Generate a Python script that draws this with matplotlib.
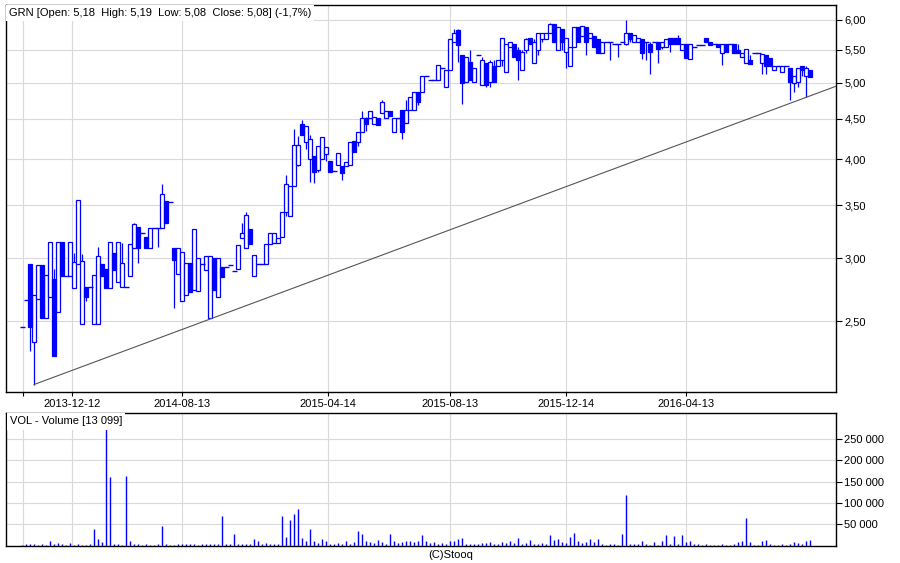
import numpy as np
import matplotlib
matplotlib.use("Agg")
import matplotlib.pyplot as plt
from matplotlib.ticker import FixedLocator, FuncFormatter, NullLocator

plt.rcParams['font.family'] = ['Liberation Sans', 'DejaVu Sans']

# ---------------- data (session order, left to right) ----------------
opens = [
    2.46, 2.66, 2.95, 2.35, 2.67, 2.94, 2.52, 2.68, 2.83, 2.57,
    3.15, 2.85, 2.85, 2.75, 2.95, 2.48, 2.76, 2.76, 2.48, 2.48,
    2.95, 2.91, 2.75, 3.05, 2.80, 2.76, 2.76, 2.85, 3.09, 3.29,
    3.23, 3.19, 3.09, 3.28, 3.28, 3.28, 3.54, 3.53, 3.09, 2.87,
    2.65, 2.70, 2.96, 2.74, 2.73, 2.95, 2.90, 2.52, 3.00, 2.68,
    2.93, 2.93, 2.94, 2.89, 2.91, 3.18, 3.09, 3.27, 2.85, 2.95,
    2.95, 2.95, 3.13, 3.14, 3.14, 3.19, 3.43, 3.39, 3.70, 3.94,
    4.43, 4.21, 4.00, 4.04, 3.88, 4.00, 4.06, 3.98, 3.87, 3.93,
    3.92, 3.92, 3.94, 4.22, 4.21, 4.33, 4.51, 4.51, 4.43, 4.51,
    4.58, 4.51, 4.60, 4.33, 4.51, 4.62, 4.45, 4.62, 4.62, 4.87,
    4.87, 5.09, 5.04, 5.04, 5.04, 5.22, 4.94, 5.19, 5.62, 5.83,
    5.42, 5.01, 5.31, 5.01, 5.42, 4.96, 5.30, 5.01, 5.24, 5.24,
    5.34, 5.16, 5.55, 5.59, 5.50, 5.19, 5.50, 5.69, 5.30, 5.50,
    5.67, 5.67, 5.78, 5.92, 5.50, 5.85, 5.47, 5.24, 5.54, 5.87,
    5.72, 5.87, 5.69, 5.72, 5.67, 5.45, 5.62, 5.62, 5.60, 5.60,
    5.62, 5.60, 5.78, 5.62, 5.62, 5.67, 5.62, 5.59, 5.62, 5.62,
    5.54, 5.54, 5.69, 5.69, 5.69, 5.50, 5.59, 5.36, 5.55, 5.57,
    5.57, 5.69, 5.62, 5.59, 5.59, 5.45, 5.59, 5.60, 5.59, 5.50,
    5.39, 5.30, 5.34, 5.45, 5.45, 5.30, 5.42, 5.37, 5.18, 5.24,
    5.16, 5.24, 5.22, 5.00, 5.01, 5.24, 5.09, 5.18,
]
highs = [
    2.46, 2.66, 2.95, 2.70, 2.94, 2.94, 2.86, 3.15, 2.91, 3.15,
    3.15, 2.85, 3.15, 3.05, 3.55, 3.04, 2.76, 2.76, 2.86, 3.10,
    2.95, 2.91, 3.15, 3.05, 3.15, 3.14, 2.76, 3.13, 3.33, 3.29,
    3.23, 3.19, 3.28, 3.28, 3.28, 3.72, 3.54, 3.53, 3.09, 3.09,
    3.06, 2.96, 2.96, 3.27, 3.00, 2.95, 3.02, 3.02, 3.00, 3.00,
    2.93, 2.93, 2.94, 2.89, 3.12, 3.33, 3.43, 3.27, 3.03, 2.95,
    2.95, 3.13, 3.23, 3.23, 3.18, 3.43, 3.82, 3.70, 4.37, 4.28,
    4.49, 4.41, 4.30, 4.04, 4.16, 4.27, 4.15, 3.98, 3.87, 4.08,
    3.92, 3.97, 4.21, 4.22, 4.33, 4.60, 4.53, 4.60, 4.53, 4.51,
    4.76, 4.60, 4.60, 4.51, 4.51, 4.62, 4.76, 4.79, 4.87, 4.87,
    5.09, 5.09, 5.04, 5.04, 5.27, 5.22, 5.19, 5.67, 5.85, 5.85,
    5.42, 5.39, 5.49, 5.22, 5.42, 5.39, 5.30, 5.34, 5.34, 5.34,
    5.70, 5.59, 5.62, 5.59, 5.54, 5.50, 5.69, 5.69, 5.67, 5.78,
    5.78, 5.78, 5.95, 5.92, 5.87, 5.85, 5.70, 5.54, 5.87, 5.87,
    5.90, 5.87, 5.78, 5.72, 5.67, 5.63, 5.62, 5.62, 5.60, 5.60,
    5.62, 6.00, 5.78, 5.75, 5.70, 5.67, 5.62, 5.62, 5.62, 5.62,
    5.62, 5.67, 5.69, 5.69, 5.75, 5.60, 5.59, 5.60, 5.55, 5.57,
    5.57, 5.69, 5.62, 5.59, 5.59, 5.59, 5.59, 5.60, 5.60, 5.60,
    5.45, 5.52, 5.42, 5.45, 5.45, 5.44, 5.42, 5.37, 5.24, 5.24,
    5.24, 5.24, 5.22, 5.09, 5.22, 5.24, 5.24, 5.19,
]
lows = [
    2.46, 2.66, 2.29, 2.08, 2.67, 2.52, 2.52, 2.68, 2.26, 2.57,
    2.85, 2.85, 2.85, 2.75, 2.95, 2.48, 2.65, 2.76, 2.48, 2.48,
    2.85, 2.75, 2.75, 2.90, 2.80, 2.76, 2.76, 2.85, 3.09, 2.96,
    3.23, 3.09, 3.09, 3.28, 3.10, 3.28, 3.33, 3.53, 2.60, 2.87,
    2.65, 2.70, 2.72, 2.74, 2.73, 2.95, 2.90, 2.52, 2.74, 2.68,
    2.84, 2.93, 2.94, 2.89, 2.91, 3.18, 3.09, 3.13, 2.85, 2.95,
    2.95, 2.95, 3.13, 3.14, 3.14, 3.19, 3.39, 3.39, 3.70, 3.92,
    4.30, 4.12, 3.75, 3.74, 3.86, 4.00, 3.98, 3.86, 3.87, 3.93,
    3.77, 3.92, 3.94, 4.09, 4.16, 4.33, 4.34, 4.51, 4.43, 4.42,
    4.58, 4.51, 4.54, 4.33, 4.51, 4.24, 4.45, 4.62, 4.62, 4.69,
    4.87, 5.09, 5.04, 5.04, 5.04, 5.22, 4.94, 5.19, 5.62, 5.31,
    4.70, 5.01, 5.04, 5.01, 5.42, 4.96, 4.94, 4.94, 5.01, 5.24,
    5.24, 5.16, 5.55, 5.39, 5.04, 5.19, 5.45, 5.59, 5.30, 5.42,
    5.63, 5.67, 5.78, 5.63, 5.50, 5.50, 5.22, 5.24, 5.54, 5.62,
    5.72, 5.42, 5.69, 5.54, 5.45, 5.45, 5.62, 5.34, 5.60, 5.39,
    5.62, 5.57, 5.62, 5.62, 5.62, 5.36, 5.34, 5.12, 5.62, 5.30,
    5.52, 5.54, 5.47, 5.60, 5.59, 5.49, 5.37, 5.36, 5.55, 5.57,
    5.57, 5.62, 5.57, 5.59, 5.54, 5.27, 5.47, 5.60, 5.45, 5.45,
    5.39, 5.30, 5.28, 5.45, 5.45, 5.12, 5.12, 5.24, 5.18, 5.24,
    5.16, 5.24, 4.76, 4.86, 4.93, 5.09, 4.79, 5.08,
]
closes = [
    2.46, 2.66, 2.46, 2.70, 2.94, 2.52, 2.86, 3.15, 2.26, 3.15,
    2.85, 2.85, 3.15, 2.97, 3.55, 2.98, 2.68, 2.76, 2.86, 3.02,
    2.85, 2.75, 3.15, 2.90, 3.15, 2.96, 2.76, 3.13, 3.32, 3.09,
    3.23, 3.09, 3.28, 3.28, 3.28, 3.62, 3.33, 3.53, 2.99, 3.09,
    3.06, 2.96, 2.72, 3.27, 3.00, 2.95, 3.02, 3.02, 2.74, 3.00,
    2.84, 2.93, 2.94, 2.89, 3.12, 3.23, 3.40, 3.13, 3.03, 2.95,
    2.95, 3.13, 3.23, 3.23, 3.18, 3.43, 3.72, 3.70, 4.17, 4.17,
    4.30, 4.41, 4.24, 3.86, 4.16, 4.27, 4.15, 3.86, 3.87, 4.08,
    3.85, 3.97, 4.21, 4.09, 4.33, 4.51, 4.43, 4.60, 4.53, 4.42,
    4.72, 4.60, 4.54, 4.51, 4.51, 4.33, 4.62, 4.79, 4.87, 4.73,
    5.09, 5.09, 5.04, 5.04, 5.27, 5.22, 5.19, 5.67, 5.78, 5.57,
    5.00, 5.39, 5.04, 5.22, 5.42, 5.34, 4.97, 5.31, 5.01, 5.34,
    5.70, 5.59, 5.62, 5.39, 5.34, 5.47, 5.67, 5.59, 5.63, 5.78,
    5.78, 5.78, 5.92, 5.63, 5.87, 5.62, 5.70, 5.54, 5.87, 5.62,
    5.90, 5.62, 5.78, 5.54, 5.45, 5.62, 5.62, 5.62, 5.60, 5.60,
    5.62, 5.78, 5.67, 5.75, 5.70, 5.45, 5.62, 5.47, 5.62, 5.52,
    5.62, 5.67, 5.60, 5.60, 5.60, 5.60, 5.37, 5.60, 5.55, 5.57,
    5.57, 5.62, 5.57, 5.59, 5.54, 5.59, 5.47, 5.60, 5.45, 5.45,
    5.45, 5.52, 5.28, 5.45, 5.45, 5.44, 5.24, 5.24, 5.24, 5.24,
    5.24, 5.24, 5.01, 5.09, 5.22, 5.19, 5.22, 5.08,
]
volumes = [
    2000, 3000, 3000, 4000, 2000, 3000, 2000, 12000, 4000, 6000,
    3000, 2000, 7000, 2000, 3000, 2000, 2000, 3000, 40000, 15000,
    8000, 275000, 160000, 3000, 3000, 2000, 163000, 10000, 4000, 3000,
    2000, 5000, 2000, 2000, 3000, 47000, 3000, 2000, 2000, 3000,
    4000, 3000, 4000, 3000, 2000, 3000, 5000, 3000, 4000, 3000,
    70000, 4000, 3000, 28000, 3000, 4000, 3000, 5000, 15000, 10000,
    4000, 7000, 5000, 4000, 5000, 70000, 20000, 61000, 73000, 85000,
    18000, 12000, 40000, 10000, 6000, 15000, 10000, 5000, 3000, 6000,
    4000, 12000, 5000, 8000, 35000, 27000, 10000, 8000, 6000, 14000,
    8000, 5000, 28000, 12000, 6000, 8000, 10000, 12000, 8000, 10000,
    25000, 10000, 6000, 8000, 5000, 7000, 5000, 10000, 12000, 15000,
    18000, 5000, 4000, 3000, 5000, 6000, 7000, 9000, 5000, 4000,
    8000, 7000, 10000, 6000, 18000, 5000, 6000, 13000, 5000, 4000,
    6000, 3000, 26000, 14000, 15000, 8000, 6000, 20000, 30000, 10000,
    7000, 8000, 15000, 8000, 15000, 3000, 2000, 3000, 5000, 2000,
    28000, 118000, 5000, 4000, 3000, 12000, 3000, 2000, 8000, 1000,
    12000, 26000, 4000, 22000, 5000, 24000, 8000, 10000, 3000, 3000,
    2000, 3000, 2000, 1000, 2000, 3000, 2000, 2000, 4000, 8000,
    10000, 64000, 8000, 1000, 2000, 12000, 13000, 4000, 2000, 1000,
    3000, 2000, 5000, 8000, 6000, 4000, 12000, 13099,
]
date_tick_pos = [0.25, 12.5, 40, 76.5, 107, 136, 166]
date_tick_labels = ["", "2013-12-12", "2014-08-13", "2015-04-14",
                    "2015-08-13", "2015-12-14", "2016-04-13"]
price_ticks = [2.5, 3.0, 3.5, 4.0, 4.5, 5.0, 5.5, 6.0]
volume_ticks = [50000, 100000, 150000, 200000, 250000]
trend_anchor_idx = [3, 196]   # sessions whose lows define the support line

title = "GRN [Open: 5,18  High: 5,19  Low: 5,08  Close: 5,08] (-1,7%)"
vol_title = "VOL - Volume [13 099]"

# ---------------- figure ----------------
W, H = 900, 563
fig = plt.figure(figsize=(W / 100, H / 100), dpi=100)
BLUE = '#0000ff'
GRID = '#d9d9d9'


def fx(px):
    return px / W


def fy(py):
    return 1 - py / H


L_, R_ = 5.7, 836.0
ax = fig.add_axes([fx(L_), fy(391.7), fx(R_) - fx(L_), fy(4.7) - fy(391.7)])
axv = fig.add_axes([fx(L_), fy(545.7), fx(R_) - fx(L_), fy(412.7) - fy(545.7)])

O = np.array(opens); Hh = np.array(highs); Lw = np.array(lows); C = np.array(closes)
n = len(O)
x = np.arange(n)
xlim = (-4.1, 203.5)
w = 0.85

# wicks
ax.vlines(x, Lw, Hh, color=BLUE, lw=0.9, zorder=2)
up = C > O
dn = C < O
eq = C == O
ax.bar(x[up], (C - O)[up], bottom=O[up], width=w, facecolor='white',
       edgecolor=BLUE, lw=0.9, zorder=3)
ax.bar(x[dn], (O - C)[dn], bottom=C[dn], width=w, facecolor=BLUE,
       edgecolor=BLUE, lw=0.9, zorder=3)
ax.hlines(O[eq], x[eq] - w / 2 - 0.2, x[eq] + w / 2 + 0.2, color=BLUE, lw=1.0, zorder=3)

# support line through two lows, extended to the right edge (straight on log scale)
i0, i1 = trend_anchor_idx
slope = (np.log(Lw[i1]) - np.log(Lw[i0])) / (i1 - i0)
tx = np.array([i0, xlim[1]])
ty = np.exp(np.log(Lw[i0]) + slope * (tx - i0))
ax.plot(tx, ty, color='#555555', lw=0.8, zorder=4, clip_on=True)

ax.set_yscale('log')
ax.set_ylim(2.037, 6.27)
ax.set_xlim(*xlim)
ax.yaxis.set_major_locator(FixedLocator(price_ticks))
ax.yaxis.set_minor_locator(NullLocator())
ax.yaxis.set_major_formatter(FuncFormatter(lambda v, p: f"{v:.2f}".replace('.', ',')))
ax.yaxis.tick_right()
ax.set_xticks(date_tick_pos)
ax.set_xticklabels(date_tick_labels)
ax.tick_params(axis='y', direction='out', length=4, width=0.8, pad=2, labelsize=8)
ax.tick_params(axis='x', direction='out', length=3, width=0.8, pad=2, labelsize=8)
ax.grid(True, color=GRID, lw=0.8)
ax.set_axisbelow(True)
for s in ax.spines.values():
    s.set_color('black'); s.set_linewidth(1.0)

# volume
axv.vlines(x, 0, volumes, color=BLUE, lw=1.0, zorder=3)
axv.set_xlim(*xlim)
axv.set_ylim(0, 311000)
axv.yaxis.set_major_locator(FixedLocator(volume_ticks))
axv.yaxis.set_major_formatter(FuncFormatter(lambda v, p: f"{int(v):,}".replace(',', ' ')))
axv.yaxis.tick_right()
axv.set_xticks(date_tick_pos)
axv.set_xticklabels([])
axv.tick_params(axis='y', direction='out', length=4, width=0.8, pad=2, labelsize=8)
axv.tick_params(axis='x', length=0)
axv.grid(True, color=GRID, lw=0.8)
axv.set_axisbelow(True)
for s in axv.spines.values():
    s.set_color('black'); s.set_linewidth(1.0)

fig.text(fx(9), fy(13), title, ha='left', va='center', fontsize=8,
         bbox=dict(facecolor='white', edgecolor='none', pad=2.2), zorder=10)
fig.text(fx(10), fy(421.5), vol_title, ha='left', va='center', fontsize=8,
         bbox=dict(facecolor='white', edgecolor='none', pad=2.2), zorder=10)
fig.text(fx(451), fy(555), "(C)Stooq", ha='center', va='center', fontsize=8)

fig.savefig('out.png', dpi=100)
